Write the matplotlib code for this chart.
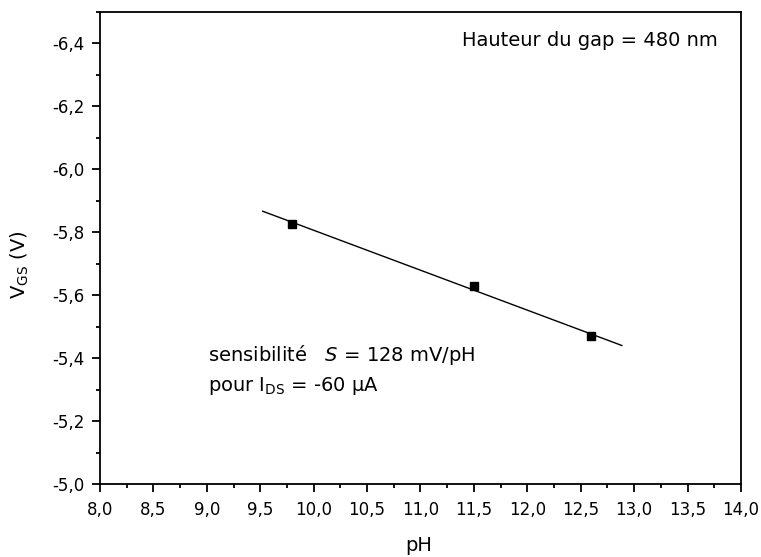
import matplotlib
matplotlib.use("Agg")
import matplotlib.pyplot as plt
import numpy as np
from matplotlib.ticker import MultipleLocator

plt.rcParams['font.family'] = ['DejaVu Sans']
plt.rcParams['mathtext.fontset'] = 'custom'
plt.rcParams['mathtext.rm'] = 'DejaVu Sans'
plt.rcParams['mathtext.it'] = 'DejaVu Sans:italic'

# Data
ph = [9.8, 11.5, 12.6]
vgs = [-5.827, -5.628, -5.469]
fit_range = [9.523, 12.885]

xticks = [8.0, 8.5, 9.0, 9.5, 10.0, 10.5, 11.0, 11.5, 12.0, 12.5, 13.0, 13.5, 14.0]
xticklabels = ["8,0", "8,5", "9,0", "9,5", "10,0", "10,5", "11,0", "11,5", "12,0", "12,5", "13,0", "13,5", "14,0"]
yticks = [-5.0, -5.2, -5.4, -5.6, -5.8, -6.0, -6.2, -6.4]
yticklabels = ["-5,0", "-5,2", "-5,4", "-5,6", "-5,8", "-6,0", "-6,2", "-6,4"]

fig = plt.figure(figsize=(7.61, 5.57), dpi=100)
ax = fig.add_axes([100/761, 1-484/557, 641/761, 472/557])

slope, intercept = np.polyfit(ph, vgs, 1)
xf = np.array(fit_range)
ax.plot(xf, slope*xf + intercept, color='black', lw=1.0)
ax.plot(ph, vgs, linestyle='none', marker='s', color='black', markersize=6)

ax.set_xlim(8.0, 14.0)
ax.set_ylim(-5.0, -6.5)
ax.set_xticks(xticks)
ax.set_xticklabels(xticklabels)
ax.set_yticks(yticks)
ax.set_yticklabels(yticklabels)
ax.xaxis.set_minor_locator(MultipleLocator(0.25))
ax.yaxis.set_minor_locator(MultipleLocator(0.1))

for s in ax.spines.values():
    s.set_linewidth(1.3)
ax.tick_params(which='major', direction='out', length=6, width=1.3, labelsize=12,
               top=False, right=False)
ax.tick_params(axis='x', which='major', pad=6)
ax.tick_params(axis='y', which='major', pad=5)
ax.tick_params(which='minor', direction='out', length=3, width=1.3, top=False, right=False)

ax.set_xlabel('pH', fontsize=14)
ax.set_ylabel(r'V$_{\mathregular{GS}}$ (V)', fontsize=14)
ax.xaxis.set_label_coords((419-100)/641, (484-536)/472)
ax.yaxis.set_label_coords((31-100)/641, (484-265)/472)

ax.text(718/761, 1-40/557, 'Hauteur du gap = 480 nm', transform=fig.transFigure,
        ha='right', va='center', fontsize=14)
ax.text(208/761, 1-355/557, r'sensibilité   $\mathit{S}$ = 128 mV/pH', transform=fig.transFigure,
        ha='left', va='center', fontsize=14)
ax.text(208/761, 1-386/557, r'pour I$_{\mathregular{DS}}$ = -60 µA', transform=fig.transFigure,
        ha='left', va='center', fontsize=14)

fig.savefig('out.png', dpi=100)
